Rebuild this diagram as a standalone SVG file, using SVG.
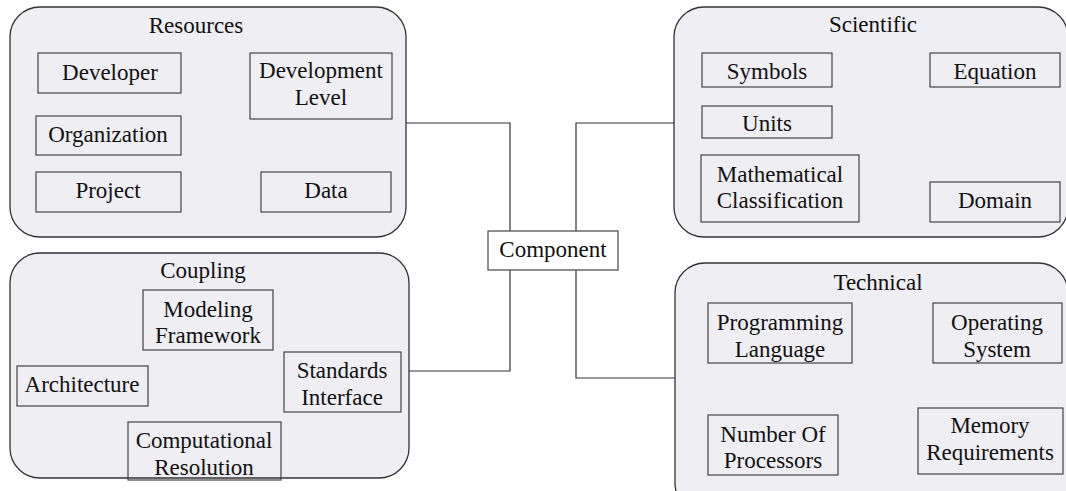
<svg xmlns="http://www.w3.org/2000/svg" width="1066" height="491" viewBox="0 0 1066 491">
<style>
.grp{fill:#efeef3;stroke:#333;stroke-width:1.3}
.box{fill:none;stroke:#444;stroke-width:1.2}
.t{font-family:"Liberation Serif","Times New Roman",serif;font-size:23px;fill:#111;text-anchor:middle}
.c{fill:none;stroke:#333;stroke-width:1.2}
</style>
<rect width="1066" height="491" fill="#fff"/>
<g id="connectors">
<polyline class="c" points="406,123 510,123 510,231"/>
<polyline class="c" points="674,123 576,123 576,231"/>
<polyline class="c" points="408,371 510,371 510,270"/>
<polyline class="c" points="675,378 576,378 576,270"/>
</g>
<g id="resources">
<rect class="grp" x="10" y="7" width="396" height="230" rx="30"/>
<text class="t" x="196" y="33">Resources</text>
<g id="developer"><rect class="box" x="38" y="53" width="143" height="40"/><text class="t" x="110" y="80">Developer</text></g>
<g id="development-level"><rect class="box" x="250" y="53" width="142" height="66"/><text class="t" x="321" y="78">Development</text><text class="t" x="321" y="105">Level</text></g>
<g id="organization"><rect class="box" x="36" y="116" width="145" height="39"/><text class="t" x="108" y="142">Organization</text></g>
<g id="project"><rect class="box" x="36" y="172" width="145" height="40"/><text class="t" x="108" y="198">Project</text></g>
<g id="data"><rect class="box" x="261" y="172" width="130" height="40"/><text class="t" x="326" y="198">Data</text></g>
</g>
<g id="coupling">
<rect class="grp" x="10" y="253" width="399" height="225" rx="30"/>
<text class="t" x="203" y="278">Coupling</text>
<g id="modeling-framework"><rect class="box" x="143" y="290" width="130" height="60"/><text class="t" x="208" y="317">Modeling</text><text class="t" x="208" y="343">Framework</text></g>
<g id="architecture"><rect class="box" x="17" y="366" width="131" height="40"/><text class="t" x="82" y="392">Architecture</text></g>
<g id="standards-interface"><rect class="box" x="284" y="352" width="117" height="60"/><text class="t" x="342" y="378">Standards</text><text class="t" x="342" y="405">Interface</text></g>
<g id="computational-resolution"><rect class="box" x="128" y="422" width="153" height="58"/><text class="t" x="204" y="448">Computational</text><text class="t" x="204" y="475">Resolution</text></g>
</g>
<g id="scientific">
<rect class="grp" x="674" y="7" width="394" height="230" rx="30"/>
<text class="t" x="873" y="32">Scientific</text>
<g id="symbols"><rect class="box" x="702" y="53" width="130" height="34"/><text class="t" x="767" y="79">Symbols</text></g>
<g id="equation"><rect class="box" x="930" y="53" width="130" height="34"/><text class="t" x="995" y="79">Equation</text></g>
<g id="units"><rect class="box" x="702" y="106" width="130" height="32"/><text class="t" x="767" y="131">Units</text></g>
<g id="mathematical-classification"><rect class="box" x="701" y="155" width="158" height="67"/><text class="t" x="780" y="182">Mathematical</text><text class="t" x="780" y="208">Classification</text></g>
<g id="domain"><rect class="box" x="930" y="182" width="130" height="40"/><text class="t" x="995" y="208">Domain</text></g>
</g>
<g id="technical">
<rect class="grp" x="675" y="263" width="393" height="250" rx="30"/>
<text class="t" x="878" y="290">Technical</text>
<g id="programming-language"><rect class="box" x="708" y="303" width="144" height="60"/><text class="t" x="780" y="330">Programming</text><text class="t" x="780" y="357">Language</text></g>
<g id="operating-system"><rect class="box" x="933" y="303" width="129" height="60"/><text class="t" x="997" y="330">Operating</text><text class="t" x="997" y="357">System</text></g>
<g id="number-of-processors"><rect class="box" x="708" y="415" width="130" height="60"/><text class="t" x="773" y="442">Number Of</text><text class="t" x="773" y="468">Processors</text></g>
<g id="memory-requirements"><rect class="box" x="918" y="408" width="145" height="66"/><text class="t" x="990" y="433">Memory</text><text class="t" x="990" y="460">Requirements</text></g>
</g>
<g id="component"><rect x="488" y="231" width="130" height="39" fill="#fff" stroke="#444" stroke-width="1.2"/><text class="t" x="553" y="257">Component</text></g>
</svg>
